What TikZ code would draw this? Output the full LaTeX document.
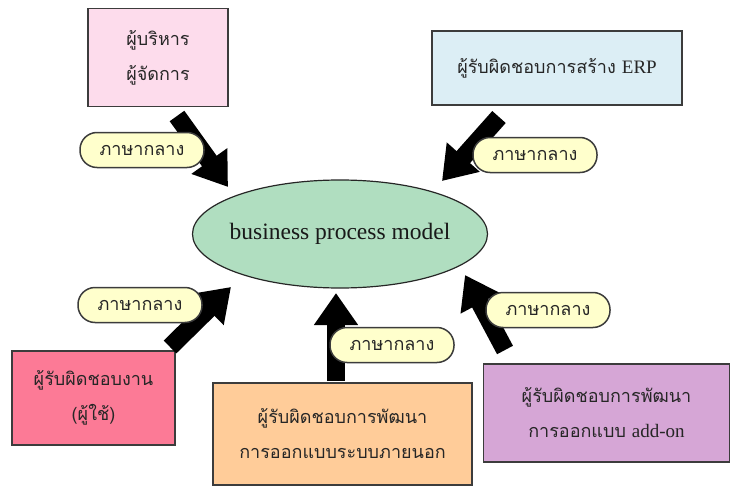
\documentclass[tikz,border=0pt]{standalone}
\usepackage{fontspec}
\setmainfont{Liberation Serif}
\newfontfamily\thaifont[Script=Thai]{Loma}
\newcommand{\lat}[1]{{\rmfamily\fontsize{19}{35}\selectfont #1}}
\usetikzlibrary{arrows.meta,shapes.geometric}
\definecolor{cPink}{RGB}{253,220,236}
\definecolor{cBlue}{RGB}{220,238,245}
\definecolor{cRed}{RGB}{252,122,150}
\definecolor{cOrange}{RGB}{255,204,153}
\definecolor{cPurple}{RGB}{214,166,214}
\definecolor{cGreen}{RGB}{176,222,192}
\definecolor{cLabel}{RGB}{255,255,204}
\definecolor{cBorder}{RGB}{60,60,60}
\tikzset{
  box/.style={draw=cBorder, line width=1.5pt, inner sep=0pt, align=center,
    font=\thaifont\fontsize{18}{35}\selectfont, text=black!85},
  lbl/.style={draw=cBorder, line width=1.5pt, fill=cLabel, rounded corners=17pt,
    minimum width=124pt, minimum height=35pt, inner sep=0pt,
    font=\thaifont\fontsize{18}{20}\selectfont, text=black!85},
  bigarrow/.style={line width=18pt, black, -{Triangle[width=42pt,length=32pt]}}
}
\begin{document}
\begin{tikzpicture}[x=1pt,y=-1pt]
\useasboundingbox (0,0) rectangle (731,487);
% ellipse
\node[ellipse, draw=black!85, line width=1.2pt, fill=cGreen, minimum width=295pt, minimum height=108pt,
  inner sep=0pt] (bpm) at (340,234) {};
\node[font=\fontsize{23.5}{27}\selectfont, text=black!90] (bpmtext) at (bpm.center) {business process model};
% boxes
\node[box, fill=cPink, minimum width=140pt, minimum height=98pt] (b1) at (158,57.5) {ผู้บริหาร\\ผู้จัดการ};
\node[box, fill=cBlue, minimum width=250pt, minimum height=74pt] (b2) at (557,68) {ผู้รับผิดชอบการสร้าง \lat{ERP}};
\node[box, fill=cRed, minimum width=163pt, minimum height=94pt] (b3) at (93.5,398) {ผู้รับผิดชอบงาน\\(ผู้ใช้)};
\node[box, fill=cOrange, minimum width=259pt, minimum height=102pt] (b4) at (342.5,434) {ผู้รับผิดชอบการพัฒนา\\การออกแบบระบบภายนอก};
\node[box, fill=cPurple, minimum width=246pt, minimum height=98pt] (b5) at (606.5,413) {ผู้รับผิดชอบการพัฒนา\\การออกแบบ \lat{add-on}};
% arrow ends
\coordinate (t1) at (177,116); \coordinate (h1) at (228,187);
\coordinate (t2) at (499,117); \coordinate (h2) at (442,181);
\coordinate (t3) at (170,347); \coordinate (h3) at (231,287);
\coordinate (t4) at (336,381); \coordinate (h4) at (336,293);
\coordinate (t5) at (505,350); \coordinate (h5) at (465,275);
\draw[bigarrow] (t1) -- (h1);
\draw[bigarrow] (t2) -- (h2);
\draw[bigarrow] (t3) -- (h3);
\draw[bigarrow] (t4) -- (h4);
\draw[bigarrow] (t5) -- (h5);
% labels
\node[lbl] (l1) at (142,150) {ภาษากลาง};
\node[lbl] (l2) at (535,155) {ภาษากลาง};
\node[lbl] (l3) at (140,305) {ภาษากลาง};
\node[lbl] (l4) at (392,345) {ภาษากลาง};
\node[lbl] (l5) at (548,310) {ภาษากลาง};
\end{tikzpicture}
\end{document}
